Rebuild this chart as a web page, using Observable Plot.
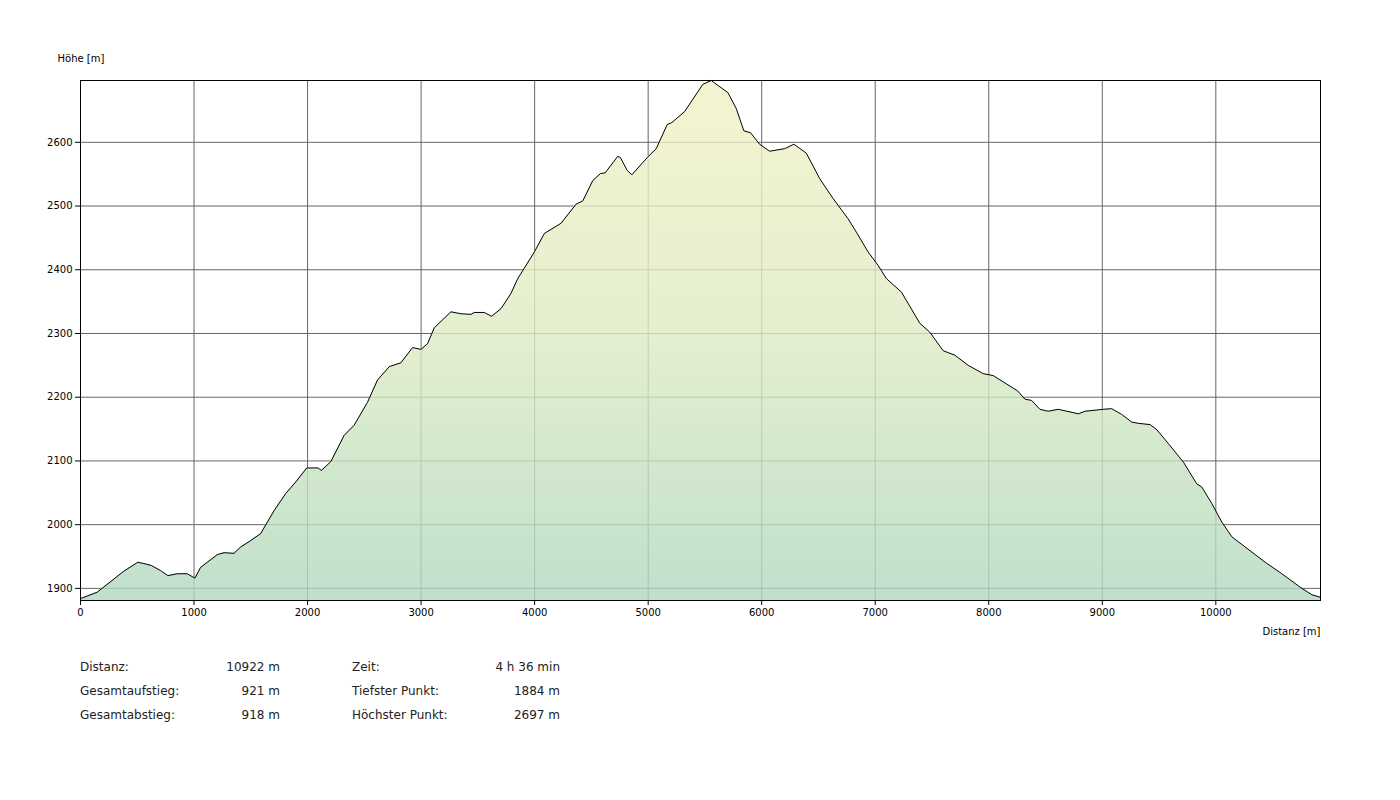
<!DOCTYPE html>
<html>
<head>
<meta charset="utf-8">
<script src="https://cdn.jsdelivr.net/npm/d3@7"></script>
<script src="https://cdn.jsdelivr.net/npm/@observablehq/plot@0.6"></script>
<style>
  html, body { margin: 0; padding: 0; background: #fff; }
  #wrap { position: relative; width: 1400px; height: 800px; font-family: "DejaVu Sans", Verdana, sans-serif; }
  #chart { position: absolute; left: 0; top: 0; }
  .stat { position: absolute; font-size: 12px; color: #222; line-height: 14px; white-space: nowrap; }
  .stat.val { text-align: right; }
</style>
</head>
<body>
<div id="wrap"><div id="chart"></div></div>
<script>
// Profile data: distance [m] and elevation [m]
const distance = [0,147,382,505,558,623,705,770,852,940,1008,1058,1117,1205,1264,1352,1411,1499,1587,1646,1705,1808,1896,1993,2093,2122,2205,2322,2410,2528,2616,2720,2822,2925,2998,3057,3116,3204,3263,3351,3439,3468,3556,3621,3704,3792,3851,3998,4086,4233,4365,4424,4512,4580,4621,4732,4756,4815,4856,4997,5071,5168,5209,5320,5482,5556,5585,5702,5776,5843,5902,5981,6070,6202,6284,6393,6511,6628,6761,6834,6937,7025,7099,7231,7393,7481,7598,7701,7819,7951,8039,8128,8254,8318,8377,8451,8524,8612,8789,8848,9009,9083,9171,9259,9318,9421,9480,9583,9715,9832,9877,9965,10053,10141,10229,10435,10582,10758,10847,10922];
const elevation = [1884,1894,1927,1941,1939,1936,1928,1920,1923,1923,1916,1933,1941,1953,1956,1955,1965,1975,1986,2004,2022,2049,2067,2089,2089,2085,2099,2140,2156,2192,2227,2248,2254,2278,2275,2284,2309,2324,2334,2331,2330,2333,2333,2327,2339,2363,2386,2428,2457,2473,2503,2508,2540,2551,2552,2578,2576,2556,2549,2577,2590,2628,2631,2648,2691,2697,2693,2678,2653,2618,2615,2597,2586,2590,2597,2583,2543,2512,2480,2459,2428,2407,2386,2365,2316,2302,2273,2266,2250,2237,2234,2224,2210,2197,2195,2181,2178,2181,2174,2178,2181,2182,2173,2161,2159,2157,2149,2127,2098,2064,2059,2033,2004,1981,1969,1941,1923,1900,1890,1886];

const xDomain = [0, 10922];
const yDomain = [1881, 2697];
const xTicks = [0,1000,2000,3000,4000,5000,6000,7000,8000,9000,10000];
const yTicks = [1900,2000,2100,2200,2300,2400,2500,2600];
const yLabel = "Höhe [m]";
const xLabel = "Distanz [m]";

const statLabelsLeft = ["Distanz:", "Gesamtaufstieg:", "Gesamtabstieg:"];
const statValuesLeft = ["10922 m", "921 m", "918 m"];
const statLabelsRight = ["Zeit:", "Tiefster Punkt:", "Höchster Punkt:"];
const statValuesRight = ["4 h 36 min", "1884 m", "2697 m"];

const data = distance.map((d, i) => ({d, e: elevation[i]}));

const M = {top: 80, right: 80, bottom: 40, left: 80};
const W = 1400, H = 640;
const plain = d => String(d);

const chart = Plot.plot({
  width: W,
  height: H,
  marginTop: M.top,
  marginRight: M.right,
  marginBottom: M.bottom,
  marginLeft: M.left,
  style: {fontFamily: '"DejaVu Sans", Verdana, sans-serif', fontSize: "10px", color: "#000", background: "#fff"},
  x: {domain: xDomain},
  y: {domain: yDomain},
  marks: [
    Plot.gridX(xTicks, {stroke: "#666", strokeOpacity: 1}),
    Plot.gridY(yTicks, {stroke: "#666", strokeOpacity: 1}),
    Plot.areaY(data, {x: "d", y1: yDomain[0], y2: "e", fill: "url(#fillGrad)", fillOpacity: 0.8}),
    Plot.line(data, {x: "d", y: "e", stroke: "#000", strokeWidth: 1}),
    Plot.frame({stroke: "#000"}),
    Plot.axisX(xTicks, {tickSize: 5, tickPadding: 3, label: null, fontSize: 10, tickFormat: plain}),
    Plot.axisY(yTicks, {tickSize: 5, tickPadding: 3, label: null, fontSize: 10, tickFormat: plain}),
    Plot.text([yLabel], {frameAnchor: "top-left", dx: -23, dy: -26, textAnchor: "start", fontSize: 10}),
    Plot.text([xLabel], {frameAnchor: "bottom-right", dx: 0, dy: 34, textAnchor: "end", fontSize: 10})
  ]
});

const defs = d3.select(chart).insert("defs", ":first-child");
const grad = defs.append("linearGradient")
  .attr("id", "fillGrad")
  .attr("gradientUnits", "userSpaceOnUse")
  .attr("x1", 0).attr("x2", 0)
  .attr("y1", M.top).attr("y2", H - M.bottom);
grad.append("stop").attr("offset", "0%").attr("stop-color", "#f3f1c4");
grad.append("stop").attr("offset", "50%").attr("stop-color", "#dcebc3");
grad.append("stop").attr("offset", "100%").attr("stop-color", "#b0d8bf");

document.getElementById("chart").appendChild(chart);

// Statistics block below the chart
const wrap = document.getElementById("wrap");
const rowTops = [660, 684, 708];
function addStat(text, left, right, top, cls) {
  const el = document.createElement("div");
  el.className = "stat " + cls;
  el.textContent = text;
  el.style.top = top + "px";
  if (cls === "val") { el.style.right = (W - right) + "px"; }
  else { el.style.left = left + "px"; }
  wrap.appendChild(el);
}
statLabelsLeft.forEach((t, i) => addStat(t, 80, null, rowTops[i], "lab"));
statValuesLeft.forEach((t, i) => addStat(t, null, 280, rowTops[i], "val"));
statLabelsRight.forEach((t, i) => addStat(t, 352, null, rowTops[i], "lab"));
statValuesRight.forEach((t, i) => addStat(t, null, 560, rowTops[i], "val"));
</script>
</body>
</html>
